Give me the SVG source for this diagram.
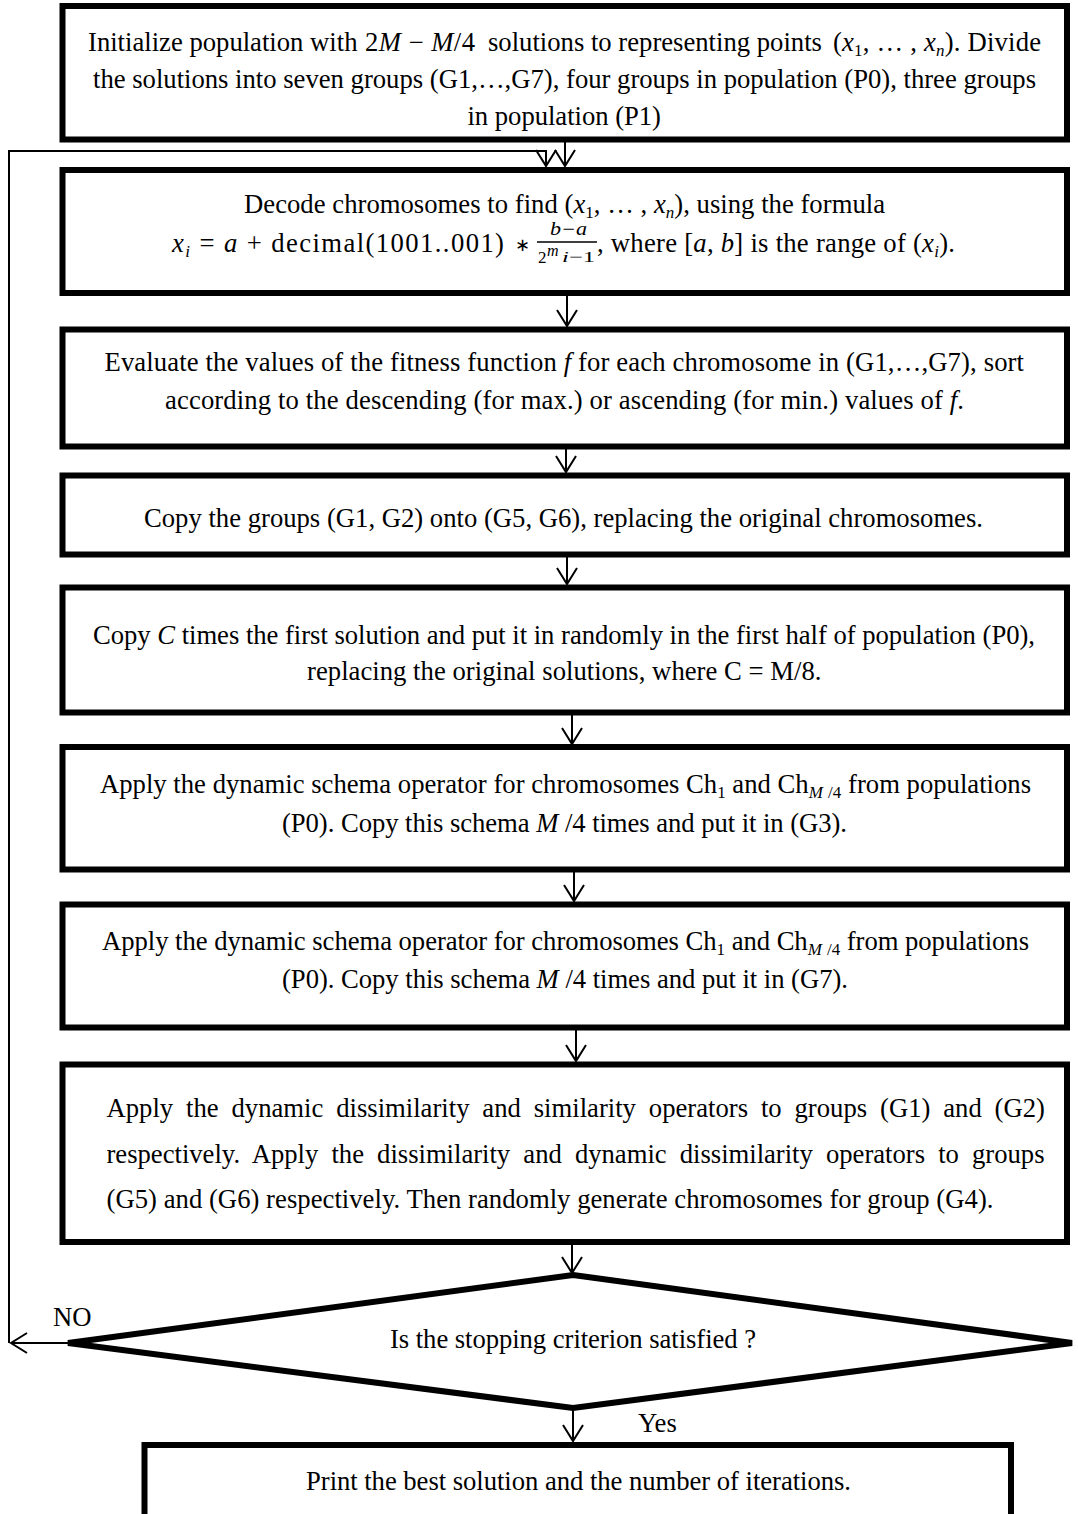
<svg xmlns="http://www.w3.org/2000/svg" width="1078" height="1514" viewBox="0 0 1078 1514">
<defs>
<style>
.box{fill:#fff;stroke:#000;stroke-width:6}
.dia{fill:#fff;stroke:#000;stroke-width:6;stroke-linejoin:miter}
.t{font-family:"Liberation Serif","Times New Roman",serif;font-size:26.67px;fill:#000}
.i{font-style:italic}
.s{font-size:17px}
.con{fill:none;stroke:#000;stroke-width:2}
</style>
<marker id="ah" markerUnits="userSpaceOnUse" viewBox="0 0 19 22" refX="17" refY="11" markerWidth="19" markerHeight="22" orient="auto">
<path d="M1,1 L17,11 L1,21" fill="none" stroke="#000" stroke-width="2"/>
</marker>
</defs>
<rect width="1078" height="1514" fill="#fff"/>

<g id="connectors">
<path class="con" d="M9,1343 V151 H546 V166" marker-end="url(#ah)"/>
<line class="con" x1="565" y1="142" x2="565" y2="166" marker-end="url(#ah)"/>
<line class="con" x1="567" y1="296" x2="567" y2="326" marker-end="url(#ah)"/>
<line class="con" x1="566" y1="449" x2="566" y2="472" marker-end="url(#ah)"/>
<line class="con" x1="567" y1="557" x2="567" y2="584" marker-end="url(#ah)"/>
<line class="con" x1="572" y1="715" x2="572" y2="744" marker-end="url(#ah)"/>
<line class="con" x1="574" y1="872" x2="574" y2="901" marker-end="url(#ah)"/>
<line class="con" x1="576" y1="1030" x2="576" y2="1061" marker-end="url(#ah)"/>
<line class="con" x1="572" y1="1245" x2="572" y2="1273" marker-end="url(#ah)"/>
<line class="con" x1="573" y1="1410" x2="573" y2="1441" marker-end="url(#ah)"/>
<line class="con" x1="70" y1="1343" x2="11" y2="1343" marker-end="url(#ah)"/>
<text class="t" x="53" y="1326">NO</text>
<text class="t" x="638" y="1432">Yes</text>
</g>

<g id="n1">
<rect class="box" x="62.5" y="6" width="1004.5" height="133.5"/>
<text class="t" x="88" y="51">Initialize population with</text>
<text class="t" x="365" y="51" textLength="110" lengthAdjust="spacing">2<tspan class="i">M</tspan> − <tspan class="i">M</tspan>/4</text>
<text class="t" x="488" y="51">solutions to representing points</text>
<text class="t" x="833" y="51" textLength="208" lengthAdjust="spacing">(<tspan class="i">x</tspan><tspan class="s" dy="5">1</tspan><tspan dy="-5">, … , </tspan><tspan class="i">x</tspan><tspan class="s i" dy="5">n</tspan><tspan dy="-5">). Divide</tspan></text>
<text class="t" x="93" y="88" textLength="943" lengthAdjust="spacing">the solutions into seven groups (G1,…,G7), four groups in population (P0), three groups</text>
<text class="t" x="467.5" y="125" textLength="193.5" lengthAdjust="spacing">in population (P1)</text>
</g>

<g id="n2">
<rect class="box" x="62.5" y="170" width="1004.5" height="123"/>
<text class="t" x="244" y="213" textLength="641" lengthAdjust="spacing">Decode chromosomes to find (<tspan class="i">x</tspan><tspan class="s" dy="5">1</tspan><tspan dy="-5">, … , </tspan><tspan class="i">x</tspan><tspan class="s i" dy="5">n</tspan><tspan dy="-5">), using the formula</tspan></text>
<text class="t" x="172" y="252" textLength="332" lengthAdjust="spacing"><tspan class="i">x</tspan><tspan class="s i" dy="5">i</tspan><tspan dy="-5"> = </tspan><tspan class="i">a</tspan> + decimal(1001..001)</text>
<text class="t" x="515" y="251" style="font-size:18px">∗</text>
<text class="t i" x="550" y="235" textLength="37" lengthAdjust="spacingAndGlyphs" style="font-size:18px">b−a</text>
<line x1="537" y1="242" x2="597" y2="242" stroke="#000" stroke-width="1.4"/>
<text class="t" x="538" y="263" style="font-size:17px">2</text>
<text class="t i" x="547" y="256" style="font-size:16px">m</text>
<text class="t" x="562" y="262" textLength="33" lengthAdjust="spacingAndGlyphs" style="font-size:15px"><tspan class="i">i</tspan>−1</text>
<text class="t" x="597" y="252" textLength="358" lengthAdjust="spacing">, where [<tspan class="i">a</tspan>, <tspan class="i">b</tspan>] is the range of (<tspan class="i">x</tspan><tspan class="s i" dy="5">i</tspan><tspan dy="-5">).</tspan></text>
</g>

<g id="n3">
<rect class="box" x="62.5" y="329.5" width="1004.5" height="117"/>
<text class="t" x="104.5" y="371" textLength="919.5" lengthAdjust="spacing">Evaluate the values of the fitness function <tspan class="i">f</tspan> for each chromosome in (G1,…,G7), sort</text>
<text class="t" x="165" y="409" textLength="799" lengthAdjust="spacing">according to the descending (for max.) or ascending (for min.) values of <tspan class="i">f</tspan>.</text>
</g>

<g id="n4">
<rect class="box" x="62.5" y="475.5" width="1004.5" height="79"/>
<text class="t" x="144" y="527" textLength="839" lengthAdjust="spacing">Copy the groups (G1, G2) onto (G5, G6), replacing the original chromosomes.</text>
</g>

<g id="n5">
<rect class="box" x="62.5" y="587.5" width="1004.5" height="125"/>
<text class="t" x="93" y="644" textLength="942" lengthAdjust="spacing">Copy <tspan class="i">C</tspan> times the first solution and put it in randomly in the first half of population (P0),</text>
<text class="t" x="307" y="680" textLength="514.5" lengthAdjust="spacing">replacing the original solutions, where C = M/8.</text>
</g>

<g id="n6">
<rect class="box" x="62.5" y="747" width="1004.5" height="122.5"/>
<text class="t" x="100" y="793" textLength="931" lengthAdjust="spacing">Apply the dynamic schema operator for chromosomes Ch<tspan class="s" dy="5">1</tspan><tspan dy="-5"> and Ch</tspan><tspan class="s i" dy="5">M</tspan><tspan class="s" dx="1"> /4</tspan><tspan dy="-5"> from populations</tspan></text>
<text class="t" x="282" y="832" textLength="565" lengthAdjust="spacing">(P0). Copy this schema <tspan class="i">M</tspan> /4 times and put it in (G3).</text>
</g>

<g id="n7">
<rect class="box" x="62.5" y="904.5" width="1004.5" height="123"/>
<text class="t" x="102" y="950" textLength="927" lengthAdjust="spacing">Apply the dynamic schema operator for chromosomes Ch<tspan class="s" dy="5">1</tspan><tspan dy="-5"> and Ch</tspan><tspan class="s i" dy="5">M</tspan><tspan class="s" dx="1"> /4</tspan><tspan dy="-5"> from populations</tspan></text>
<text class="t" x="282" y="988" textLength="566" lengthAdjust="spacing">(P0). Copy this schema <tspan class="i">M</tspan> /4 times and put it in (G7).</text>
</g>

<g id="n8">
<rect class="box" x="62.5" y="1064.5" width="1004.5" height="177.5"/>
<text class="t" x="106.5" y="1117" word-spacing="6.2" textLength="938.5" lengthAdjust="spacing">Apply the dynamic dissimilarity and similarity operators to groups (G1) and (G2)</text>
<text class="t" x="106.5" y="1163" word-spacing="6.5" textLength="938" lengthAdjust="spacing">respectively. Apply the dissimilarity and dynamic dissimilarity operators to groups</text>
<text class="t" x="106.5" y="1208" textLength="887" lengthAdjust="spacing">(G5) and (G6) respectively. Then randomly generate chromosomes for group (G4).</text>
</g>

<g id="decision">
<polygon class="dia" points="573,1275 1072,1343 573,1408 68,1343"/>
<text class="t" x="390" y="1348" textLength="366" lengthAdjust="spacing">Is the stopping criterion satisfied ?</text>
</g>

<g id="end">
<rect class="box" x="144.5" y="1445" width="866.5" height="90"/>
<text class="t" x="306" y="1490" textLength="545" lengthAdjust="spacing">Print the best solution and the number of iterations.</text>
</g>
</svg>
